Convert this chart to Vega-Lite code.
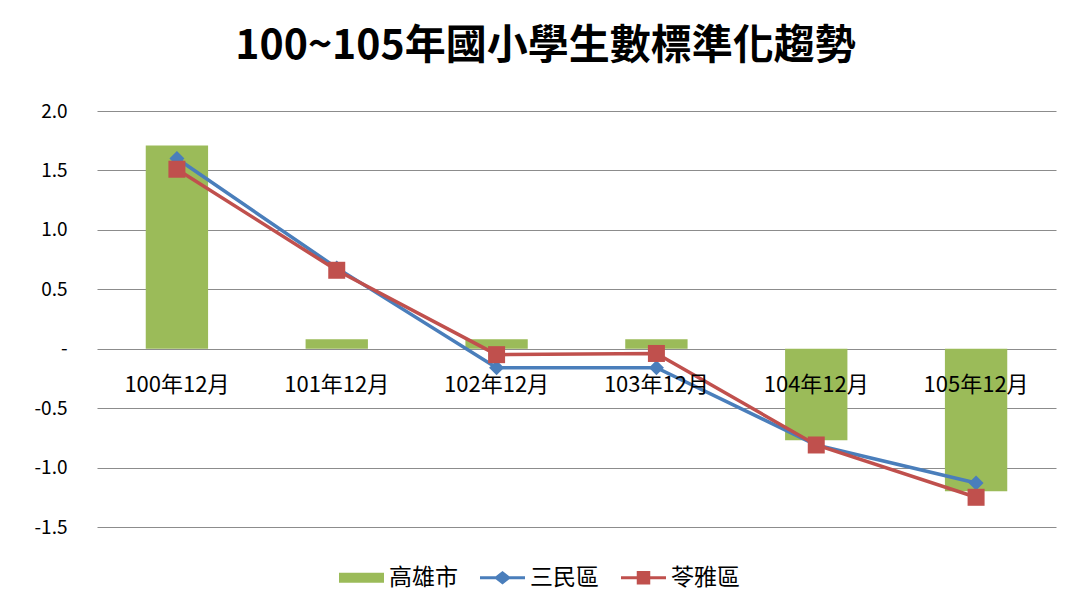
{
  "$schema": "https://vega.github.io/schema/vega-lite/v6.json",
  "width": 959,
  "height": 416,
  "autosize": {"type": "none"},
  "padding": {"left": 97, "top": 111, "right": 24, "bottom": 88},
  "background": "white",
  "title": {
    "text": "100~105年國小學生數標準化趨勢",
    "font": "Noto Sans CJK TC",
    "fontSize": 41,
    "fontWeight": "bold",
    "color": "#000000",
    "anchor": "middle",
    "offset": 34,
    "dx": -31
  },
  "config": {
    "view": {"stroke": null},
    "font": "Noto Sans CJK TC"
  },
  "data": {
    "values": [
      {"month": "100年12月", "series": "高雄市", "value": 1.71},
      {"month": "101年12月", "series": "高雄市", "value": 0.08},
      {"month": "102年12月", "series": "高雄市", "value": 0.08},
      {"month": "103年12月", "series": "高雄市", "value": 0.08},
      {"month": "104年12月", "series": "高雄市", "value": -0.77},
      {"month": "105年12月", "series": "高雄市", "value": -1.2},
      {"month": "100年12月", "series": "三民區", "value": 1.6},
      {"month": "101年12月", "series": "三民區", "value": 0.68},
      {"month": "102年12月", "series": "三民區", "value": -0.16},
      {"month": "103年12月", "series": "三民區", "value": -0.16},
      {"month": "104年12月", "series": "三民區", "value": -0.81},
      {"month": "105年12月", "series": "三民區", "value": -1.13},
      {"month": "100年12月", "series": "苓雅區", "value": 1.51},
      {"month": "101年12月", "series": "苓雅區", "value": 0.66},
      {"month": "102年12月", "series": "苓雅區", "value": -0.05},
      {"month": "103年12月", "series": "苓雅區", "value": -0.04},
      {"month": "104年12月", "series": "苓雅區", "value": -0.81},
      {"month": "105年12月", "series": "苓雅區", "value": -1.25}
    ]
  },
  "encoding": {
    "x": {
      "field": "month",
      "type": "ordinal",
      "sort": null,
      "scale": {"type": "band", "paddingInner": 0, "paddingOuter": 0},
      "axis": {
        "title": null,
        "orient": "bottom",
        "offset": -178.3,
        "domain": false,
        "ticks": false,
        "tickSize": 0,
        "grid": false,
        "labelAngle": 0,
        "labelPadding": 26,
        "labelFontSize": 22,
        "labelColor": "#000000",
        "labelFont": "Noto Sans CJK TC",
        "zindex": 1
      }
    },
    "y": {
      "field": "value",
      "type": "quantitative",
      "scale": {"domain": [-1.5, 2.0], "nice": false, "zero": false},
      "axis": {
        "title": null,
        "values": [-1.5, -1.0, -0.5, 0, 0.5, 1.0, 1.5, 2.0],
        "labelExpr": "datum.value == 0 ? '-' : replace(format(datum.value, '.1f'), '−', '-')",
        "domain": false,
        "ticks": false,
        "tickSize": 0,
        "labelPadding": 30,
        "labelFontSize": 19,
        "labelColor": "#000000",
        "labelFont": "Noto Sans CJK TC",
        "grid": true,
        "gridColor": "#8c8c8c",
        "gridWidth": 1.2,
        "zindex": 0
      }
    },
    "color": {
      "field": "series",
      "type": "nominal",
      "scale": {
        "domain": ["高雄市", "三民區", "苓雅區"],
        "range": ["#9BBB59", "#4A7EBB", "#C0504D"]
      },
      "legend": {
        "orient": "none",
        "legendX": 242,
        "legendY": 444,
        "direction": "horizontal",
        "title": null,
        "symbolSize": 2025,
        "symbolStrokeWidth": 0,
        "labelFontSize": 23,
        "labelFont": "Noto Sans CJK TC",
        "labelColor": "#000000",
        "labelOffset": 5,
        "columnPadding": 22,
        "encode": {
          "symbols": {
            "update": {
              "shape": {"signal": "datum.value === '高雄市' ? 'M-1,-0.22H1V0.22H-1Z' : datum.value === '三民區' ? 'M-1,-0.07H-0.3L0,-0.3L0.3,-0.07H1V0.07H0.3L0,0.3L-0.3,0.07H-1Z' : 'M-1,-0.07H-0.3V-0.3H0.3V-0.07H1V0.07H0.3V0.3H-0.3V0.07H-1Z'"},
              "fill": {"signal": "datum.value === '高雄市' ? '#9BBB59' : datum.value === '三民區' ? '#4A7EBB' : '#C0504D'"},
              "stroke": {"value": "transparent"},
              "strokeWidth": {"value": 0},
              "opacity": {"value": 1}
            }
          }
        }
      }
    }
  },
  "layer": [
    {
      "transform": [{"filter": "datum.series === '高雄市'"}],
      "mark": {"type": "bar", "width": {"band": 0.39}}
    },
    {
      "transform": [{"filter": "datum.series === '三民區'"}],
      "mark": {"type": "line", "strokeWidth": 3.5}
    },
    {
      "transform": [{"filter": "datum.series === '三民區'"}],
      "mark": {"type": "point", "shape": "diamond", "filled": true, "size": 225, "opacity": 1}
    },
    {
      "transform": [{"filter": "datum.series === '苓雅區'"}],
      "mark": {"type": "line", "strokeWidth": 3.5}
    },
    {
      "transform": [{"filter": "datum.series === '苓雅區'"}],
      "mark": {"type": "point", "shape": "square", "filled": true, "size": 289, "opacity": 1}
    }
  ]
}
